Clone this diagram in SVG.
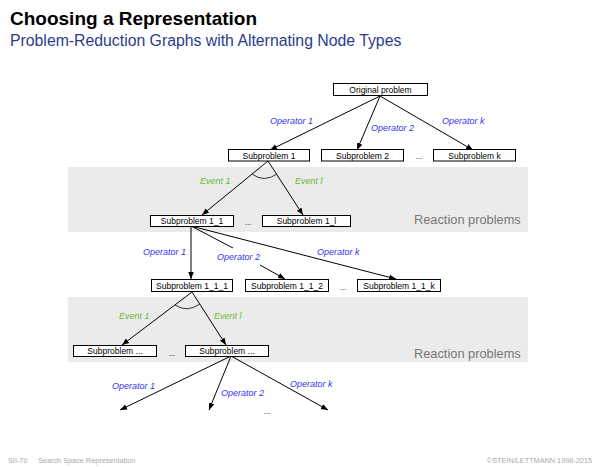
<svg xmlns="http://www.w3.org/2000/svg" width="600" height="467" viewBox="0 0 600 467">
<defs>
<marker id="ah" viewBox="0 0 10 10" refX="10" refY="5" markerWidth="7" markerHeight="7" markerUnits="userSpaceOnUse" orient="auto">
<path d="M0,1 L10,5 L0,9 Z" fill="#000"/>
</marker>
<style>
.box{fill:#fff;stroke:#000;stroke-width:1}
.bt{font-family:"Liberation Sans",Arial,sans-serif;font-size:8.5px;fill:#000;text-anchor:middle}
.op{font-family:"Liberation Sans",Arial,sans-serif;font-size:9px;font-style:italic;fill:#3333ee}
.ev{font-family:"Liberation Sans",Arial,sans-serif;font-size:9px;font-style:italic;fill:#66bb33}
.dots{font-family:"Liberation Sans",Arial,sans-serif;font-size:8px;fill:#000;text-anchor:middle}
.band{fill:#ebebeb}
.rp{font-family:"Liberation Sans",Arial,sans-serif;font-size:12.8px;fill:#777}
.ln{stroke:#000;stroke-width:1;fill:none}
.lna{stroke:#000;stroke-width:1;fill:none;marker-end:url(#ah)}
.arc{stroke:#333;stroke-width:1;fill:none}
.ft{font-family:"Liberation Sans",Arial,sans-serif;font-size:7.3px;fill:#aaa}
</style>
</defs>
<rect width="600" height="467" fill="#fff"/>
<rect class="band" x="68" y="167" width="460" height="65"/>
<rect class="band" x="68" y="297" width="460" height="65"/>
<text x="10" y="25" font-family="Liberation Sans,Arial,sans-serif" font-size="19" font-weight="bold" fill="#000">Choosing a Representation</text>
<text x="10" y="46" font-family="Liberation Sans,Arial,sans-serif" font-size="15.8" fill="#2a3c8c">Problem-Reduction Graphs with Alternating Node Types</text>
<text class="rp" x="414" y="224">Reaction problems</text>
<text class="rp" x="414" y="358">Reaction problems</text>
<g id="connectors">
<line class="lna" x1="380" y1="96" x2="270" y2="150"/>
<line class="lna" x1="380" y1="96" x2="357" y2="150"/>
<line class="lna" x1="380" y1="96" x2="473" y2="150"/>
<line class="lna" x1="268" y1="161" x2="202" y2="215"/>
<line class="lna" x1="268" y1="161" x2="303" y2="215"/>
<path class="arc" d="M252,174 Q264,183 277,174"/>
<line class="lna" x1="191" y1="226" x2="191" y2="279"/>
<line class="ln" x1="191" y1="226" x2="233" y2="248"/>
<line class="lna" x1="260" y1="265" x2="285" y2="279"/>
<line class="lna" x1="191" y1="226" x2="396" y2="279"/>
<line class="lna" x1="192" y1="292" x2="122" y2="345"/>
<line class="lna" x1="192" y1="292" x2="226" y2="345"/>
<path class="arc" d="M175,305 Q187,313 200,304"/>
<line class="lna" x1="231" y1="356" x2="120" y2="410"/>
<line class="lna" x1="231" y1="356" x2="209" y2="410"/>
<line class="lna" x1="231" y1="356" x2="328" y2="410"/>
</g>
<text class="op" x="270" y="124">Operator 1</text>
<text class="op" x="371" y="131">Operator 2</text>
<text class="op" x="442" y="124">Operator k</text>
<text class="ev" x="200" y="184">Event 1</text>
<text class="ev" x="295" y="184">Event l</text>
<text class="op" x="143" y="255">Operator 1</text>
<text class="op" x="217" y="260">Operator 2</text>
<text class="op" x="317" y="255">Operator k</text>
<text class="ev" x="119" y="319">Event 1</text>
<text class="ev" x="214" y="319">Event l</text>
<text class="op" x="112" y="389">Operator 1</text>
<text class="op" x="221" y="396">Operator 2</text>
<text class="op" x="290" y="387">Operator k</text>
<g id="n-orig"><rect class="box" x="333.5" y="83.5" width="94" height="12"/><text class="bt" x="380.5" y="92.5">Original problem</text></g>
<g id="n-s1"><rect class="box" x="228.5" y="149.5" width="81" height="11.5"/><text class="bt" x="269" y="158.5">Subproblem 1</text></g>
<g id="n-s2"><rect class="box" x="321.5" y="149.5" width="82" height="11.5"/><text class="bt" x="362.5" y="158.5">Subproblem 2</text></g>
<text class="dots" x="419" y="159">...</text>
<g id="n-sk"><rect class="box" x="433.5" y="149.5" width="82" height="11.5"/><text class="bt" x="474.5" y="158.5">Subproblem k</text></g>
<g id="n-s11"><rect class="box" x="150.5" y="215.5" width="83" height="11"/><text class="bt" x="192" y="224">Subproblem 1_1</text></g>
<text class="dots" x="248" y="225">...</text>
<g id="n-s1l"><rect class="box" x="262.5" y="215.5" width="88" height="11"/><text class="bt" x="306.5" y="224">Subproblem 1_l</text></g>
<g id="n-s111"><rect class="box" x="151.5" y="279.5" width="81" height="12"/><text class="bt" x="192" y="288.5">Subproblem 1_1_1</text></g>
<g id="n-s112"><rect class="box" x="245.5" y="279.5" width="83" height="12"/><text class="bt" x="287" y="288.5">Subproblem 1_1_2</text></g>
<text class="dots" x="343" y="290">...</text>
<g id="n-s11k"><rect class="box" x="357.5" y="279.5" width="83" height="12"/><text class="bt" x="399" y="288.5">Subproblem 1_1_k</text></g>
<g id="n-sa"><rect class="box" x="73.5" y="345.5" width="83" height="11"/><text class="bt" x="115" y="354">Subproblem ...</text></g>
<text class="dots" x="172" y="356">...</text>
<g id="n-sb"><rect class="box" x="185.5" y="345.5" width="83" height="11"/><text class="bt" x="227" y="354">Subproblem ...</text></g>
<text class="dots" x="267" y="414">...</text>
<text class="ft" x="8" y="463">SII-70</text>
<text class="ft" x="38" y="463">Search Space Representation</text>
<text class="ft" x="592" y="463" text-anchor="end">©STEIN/LETTMANN 1998-2015</text>
</svg>
